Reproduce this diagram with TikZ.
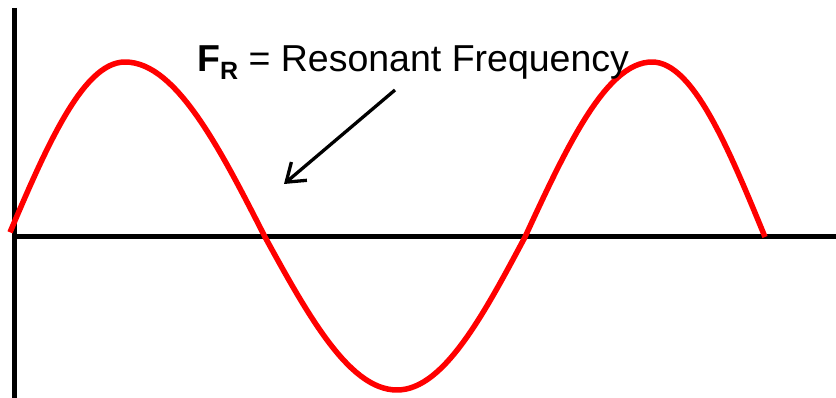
\documentclass[tikz,border=0pt]{standalone}
\usepackage{fontspec}
\setmainfont{Liberation Sans}
\usepackage{tikz}
\usetikzlibrary{arrows.meta}
\definecolor{wave-red}{RGB}{255,0,0}

\begin{document}
\begin{tikzpicture}[
    x=1pt, y=-1pt,
    axis/.style  = {line width=5pt, black},
    wave/.style  = {line width=5.5pt, color=wave-red, line join=round},
    pointer/.style = {line width=3.3pt, -{Straight Barb[length=17pt, width=24pt, line width=3.3pt]}},
    label/.style = {inner sep=0pt, anchor=base west, font=\fontsize{37.5}{40}\selectfont}
  ]
    \useasboundingbox (0,0) rectangle (836,398);

    %% ---- axes ----
    \coordinate (ytop)   at (14,8);
    \coordinate (ybot)   at (14,398);
    \coordinate (origin) at (12,237);
    \coordinate (xend)   at (836,237);
    \draw[axis] (ytop) -- (ybot);
    \draw[axis] (origin) -- (xend);

    %% ---- resonance curve: quarter waves between crossings and peaks ----
    \draw[wave]
      plot[domain=10:125, samples=30]  (\x, {237-175*sin(90*(\x-8)/117)})
      -- plot[domain=125:265, samples=30] (\x, {237-175*cos(90*(\x-125)/140)})
      -- plot[domain=265:397, samples=30] (\x, {237+153*sin(90*(\x-265)/132)})
      -- plot[domain=397:525, samples=30] (\x, {237+153*cos(90*(\x-397)/128)})
      -- plot[domain=525:652, samples=30] (\x, {237-175*sin(90*(\x-525)/127)})
      -- plot[domain=652:765, samples=30] (\x, {237-175*cos(90*(\x-652)/113)});

    %% ---- label and pointer ----
    \node[label] (fr) at (197,72)
      {\textbf{F}\raisebox{-8pt}{\fontsize{25}{25}\selectfont\bfseries R} = Resonant Frequency};
    \coordinate (tail) at (395,90);
    \coordinate (head) at (284,184);
    \draw[pointer] (tail) -- (head);

  \end{tikzpicture}
\end{document}
